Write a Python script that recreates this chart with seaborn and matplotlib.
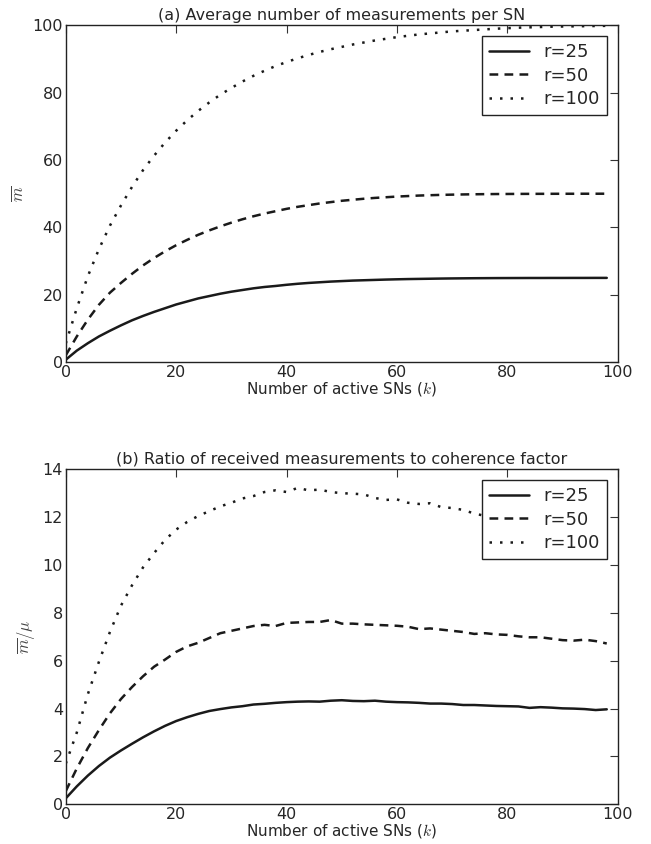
import matplotlib
matplotlib.use('Agg')
import matplotlib.pyplot as plt
import pandas as pd
import seaborn as sns

# number of active SNs (k)
k = list(range(0, 100, 2))

m_r25 = [0.7, 3.4, 5.6, 7.6, 9.3, 10.9, 12.4, 13.7, 14.9, 16.0,
         17.1, 18.0, 18.9, 19.6, 20.3, 20.9, 21.4, 21.9, 22.3, 22.6,
         22.95, 23.25, 23.5, 23.7, 23.9, 24.05, 24.2, 24.3, 24.4, 24.5,
         24.58, 24.65, 24.7, 24.75, 24.8, 24.84, 24.87, 24.9, 24.92, 24.94,
         24.95, 24.96, 24.97, 24.97, 24.98, 24.98, 24.99, 24.99, 25.0, 25.0]
m_r50 = [2.0, 7.6, 12.6, 17.0, 20.6, 23.5, 26.2, 28.7, 30.9, 32.9,
         34.7, 36.3, 37.8, 39.1, 40.3, 41.4, 42.4, 43.3, 44.1, 44.8,
         45.5, 46.1, 46.6, 47.1, 47.5, 47.9, 48.2, 48.5, 48.75, 48.95,
         49.15, 49.3, 49.45, 49.55, 49.65, 49.72, 49.78, 49.83, 49.87, 49.9,
         49.92, 49.94, 49.95, 49.96, 49.97, 49.98, 49.98, 49.99, 49.99, 50.0]
m_r100 = [5.5, 16.0, 25.5, 33.5, 40.5, 46.5, 52.0, 57.0, 61.3, 65.2,
          68.7, 71.8, 74.6, 77.1, 79.4, 81.4, 83.3, 85.0, 86.5, 87.9,
          89.1, 90.2, 91.2, 92.1, 92.9, 93.6, 94.3, 94.9, 95.5, 96.0,
          96.5, 96.9, 97.3, 97.6, 97.9, 98.2, 98.4, 98.6, 98.8, 99.0,
          99.15, 99.3, 99.4, 99.5, 99.6, 99.65, 99.7, 99.75, 99.8, 99.85]

# (b) ratio of received measurements to coherence factor
q_r25 = [0.25, 0.75, 1.2, 1.6, 1.95, 2.25, 2.53, 2.8, 3.05, 3.28,
         3.48, 3.64, 3.78, 3.9, 3.98, 4.05, 4.1, 4.17, 4.2, 4.24,
         4.27, 4.29, 4.3, 4.29, 4.33, 4.35, 4.32, 4.31, 4.33, 4.29,
         4.27, 4.26, 4.24, 4.21, 4.21, 4.19, 4.15, 4.15, 4.13, 4.11,
         4.1, 4.09, 4.03, 4.06, 4.04, 4.01, 4.0, 3.98, 3.94, 3.97]
q_r50 = [0.55, 1.5, 2.35, 3.1, 3.8, 4.4, 4.9, 5.35, 5.75, 6.05,
         6.37, 6.6, 6.75, 6.95, 7.15, 7.25, 7.35, 7.45, 7.5, 7.45,
         7.58, 7.6, 7.62, 7.62, 7.7, 7.55, 7.55, 7.52, 7.5, 7.48,
         7.46, 7.42, 7.32, 7.35, 7.3, 7.25, 7.2, 7.12, 7.15, 7.1,
         7.08, 7.02, 6.98, 6.98, 6.92, 6.86, 6.84, 6.88, 6.82, 6.72]
q_r100 = [1.7, 3.0, 4.6, 5.95, 7.2, 8.3, 9.15, 9.9, 10.5, 11.05,
          11.48, 11.8, 12.05, 12.25, 12.45, 12.6, 12.78, 12.88, 13.05, 13.12,
          13.05, 13.22, 13.12, 13.15, 13.05, 13.0, 12.98, 12.95, 12.8, 12.72,
          12.74, 12.6, 12.55, 12.58, 12.42, 12.38, 12.3, 12.15, 12.05, 11.95,
          11.9, 11.8, 11.75, 11.65, 11.6, 11.5, 11.45, 11.35, 11.3, 11.2]

labels = ['r=25', 'r=50', 'r=100']
styles = ['-', (0, (3.5, 2.5)), (0, (1, 3.2))]

sns.set_style('white')
plt.rcParams['font.family'] = ['DejaVu Sans']
plt.rcParams['mathtext.fontset'] = 'cm'

fig = plt.figure(figsize=(6.51, 8.44), dpi=100)
ax1 = fig.add_axes([0.101, 0.571, 0.848, 0.399])
ax2 = fig.add_axes([0.101, 0.047, 0.848, 0.397])


def draw(ax, series, ymax, title, ylabel):
    for vals, lab, ls in zip(series, labels, styles):
        df = pd.DataFrame({'k': k, 'v': vals})
        sns.lineplot(data=df, x='k', y='v', ax=ax, color='#1a1a1a',
                     linewidth=1.8, linestyle=ls, label=lab)
    ax.set_xlim(0, 100)
    ax.set_ylim(0, ymax)
    ax.set_title(title, fontsize=11.5, pad=4)
    ax.set_xlabel('Number of active SNs ($k$)', fontsize=11, labelpad=0)
    ax.set_ylabel(ylabel, fontsize=12, color='#444444')
    ax.tick_params(direction='in', top=True, right=True, length=6,
                   width=0.8, labelsize=11.5, color='#333333', pad=2)
    for s in ax.spines.values():
        s.set_color('#222222')
        s.set_linewidth(1.0)
    leg = ax.legend(loc='upper right', fontsize=13, fancybox=False,
                    framealpha=1, edgecolor='#222222', handlelength=2.2,
                    borderaxespad=0.6, labelspacing=0.3)
    leg.get_frame().set_linewidth(1.0)


draw(ax1, [m_r25, m_r50, m_r100], 100,
     '(a) Average number of measurements per SN', r'$\overline{m}$')
ax1.set_yticks([0, 20, 40, 60, 80, 100])
draw(ax2, [q_r25, q_r50, q_r100], 14,
     '(b) Ratio of received measurements to coherence factor',
     r'$\overline{m}/\mu$')
ax2.set_yticks(range(0, 15, 2))

fig.savefig('out.png', dpi=100)
